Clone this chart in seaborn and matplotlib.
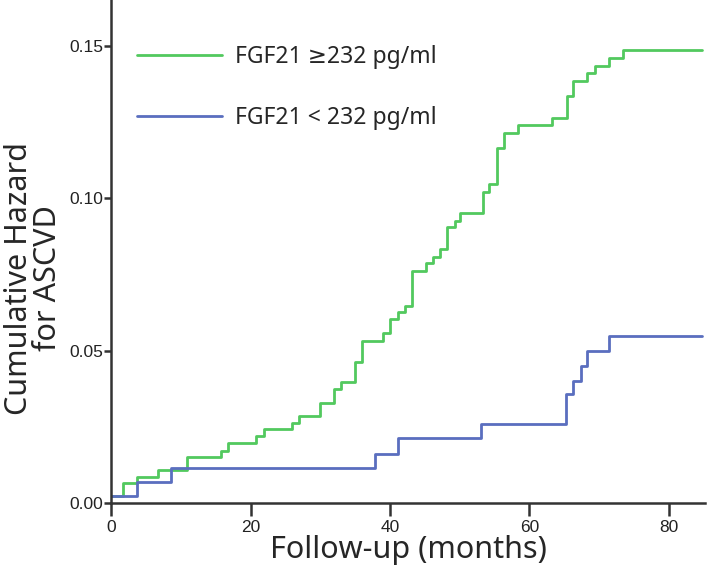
import pandas as pd
import matplotlib
matplotlib.use("Agg")
import matplotlib.pyplot as plt
import seaborn as sns

# step times (months) and cumulative hazard
high_time = [0, 1.6, 3.6, 6.7, 10.8, 15.7, 16.8, 20.8, 21.9, 25.9, 26.9, 29.9,
             31.9, 32.9, 35.0, 36.0, 39.0, 40.0, 41.2, 42.1, 43.1, 45.1, 46.1,
             47.1, 48.2, 49.3, 50.1, 53.3, 54.2, 55.3, 56.3, 58.3, 63.3, 65.4,
             66.3, 68.3, 69.4, 71.4, 73.5, 84.8]
high_hazard = [0.0023, 0.0067, 0.0086, 0.0108, 0.0150, 0.0172, 0.0196, 0.0220,
               0.0242, 0.0263, 0.0286, 0.0329, 0.0374, 0.0396, 0.0464, 0.0532,
               0.0557, 0.0603, 0.0625, 0.0647, 0.0762, 0.0787, 0.0808, 0.0832,
               0.0905, 0.0926, 0.0951, 0.1020, 0.1046, 0.1164, 0.1214, 0.1240,
               0.1263, 0.1336, 0.1385, 0.1410, 0.1434, 0.1459, 0.1487, 0.1487]

low_time = [0, 3.6, 8.6, 37.9, 41.1, 53.1, 65.2, 66.3, 67.4, 68.3, 71.4, 84.8]
low_hazard = [0.0023, 0.0070, 0.0114, 0.0160, 0.0212, 0.0258, 0.0357, 0.0401,
              0.0451, 0.0500, 0.0549, 0.0549]

group_labels = ["FGF21 \u2265232 pg/ml", "FGF21 < 232 pg/ml"]
group_colors = ["#52c95e", "#5a6ebf"]
x_ticks = [0, 20, 40, 60, 80]
y_ticks = [0.00, 0.05, 0.10, 0.15]

df = pd.concat([
    pd.DataFrame({"time": high_time, "hazard": high_hazard, "group": group_labels[0]}),
    pd.DataFrame({"time": low_time, "hazard": low_hazard, "group": group_labels[1]}),
])

sns.set_style("ticks")
plt.rcParams["font.family"] = ["Noto Sans", "DejaVu Sans"]

fig = plt.figure(figsize=(7.07, 5.74), dpi=100)
ax = fig.add_axes([0.1577, 0.1237, 0.8393, 0.8763])

sns.lineplot(data=df, x="time", y="hazard", hue="group", hue_order=group_labels,
             palette=dict(zip(group_labels, group_colors)), estimator=None,
             drawstyle="steps-post", linewidth=2.0, ax=ax)

ax.set_xlim(0, 85.2)
ax.set_ylim(0, 0.165)
ax.set_xticks(x_ticks)
ax.set_yticks(y_ticks)
ax.set_yticklabels([f"{v:.2f}" for v in y_ticks])

tick_font = ["Liberation Sans Narrow", "Liberation Sans", "DejaVu Sans"]
for lab in ax.get_xticklabels() + ax.get_yticklabels():
    lab.set_family(tick_font)
    lab.set_fontsize(12.5)
    lab.set_color("#222222")

for side in ["top", "right"]:
    ax.spines[side].set_visible(False)
for side in ["left", "bottom"]:
    ax.spines[side].set_linewidth(1.8)
    ax.spines[side].set_color("#333333")
ax.tick_params(axis="x", length=9, width=1.8, color="#333333", pad=3)
ax.tick_params(axis="y", length=5, width=1.8, color="#333333", pad=1)

ax.set_xlabel("Follow-up (months)", fontsize=22, labelpad=0, fontweight="medium")
ax.set_ylabel("Cumulative Hazard\nfor ASCVD", fontsize=22, linespacing=0.95,
              fontweight="medium")
ax.yaxis.label.set_verticalalignment("center")
ax.yaxis.set_label_coords(-0.131, 0.447)

ax.legend(loc="upper left", bbox_to_anchor=(0.028, 0.929), frameon=False,
          fontsize=16.5, handlelength=3.7, handletextpad=0.56, labelspacing=1.62,
          borderaxespad=0)

fig.savefig("out.png", dpi=100)
